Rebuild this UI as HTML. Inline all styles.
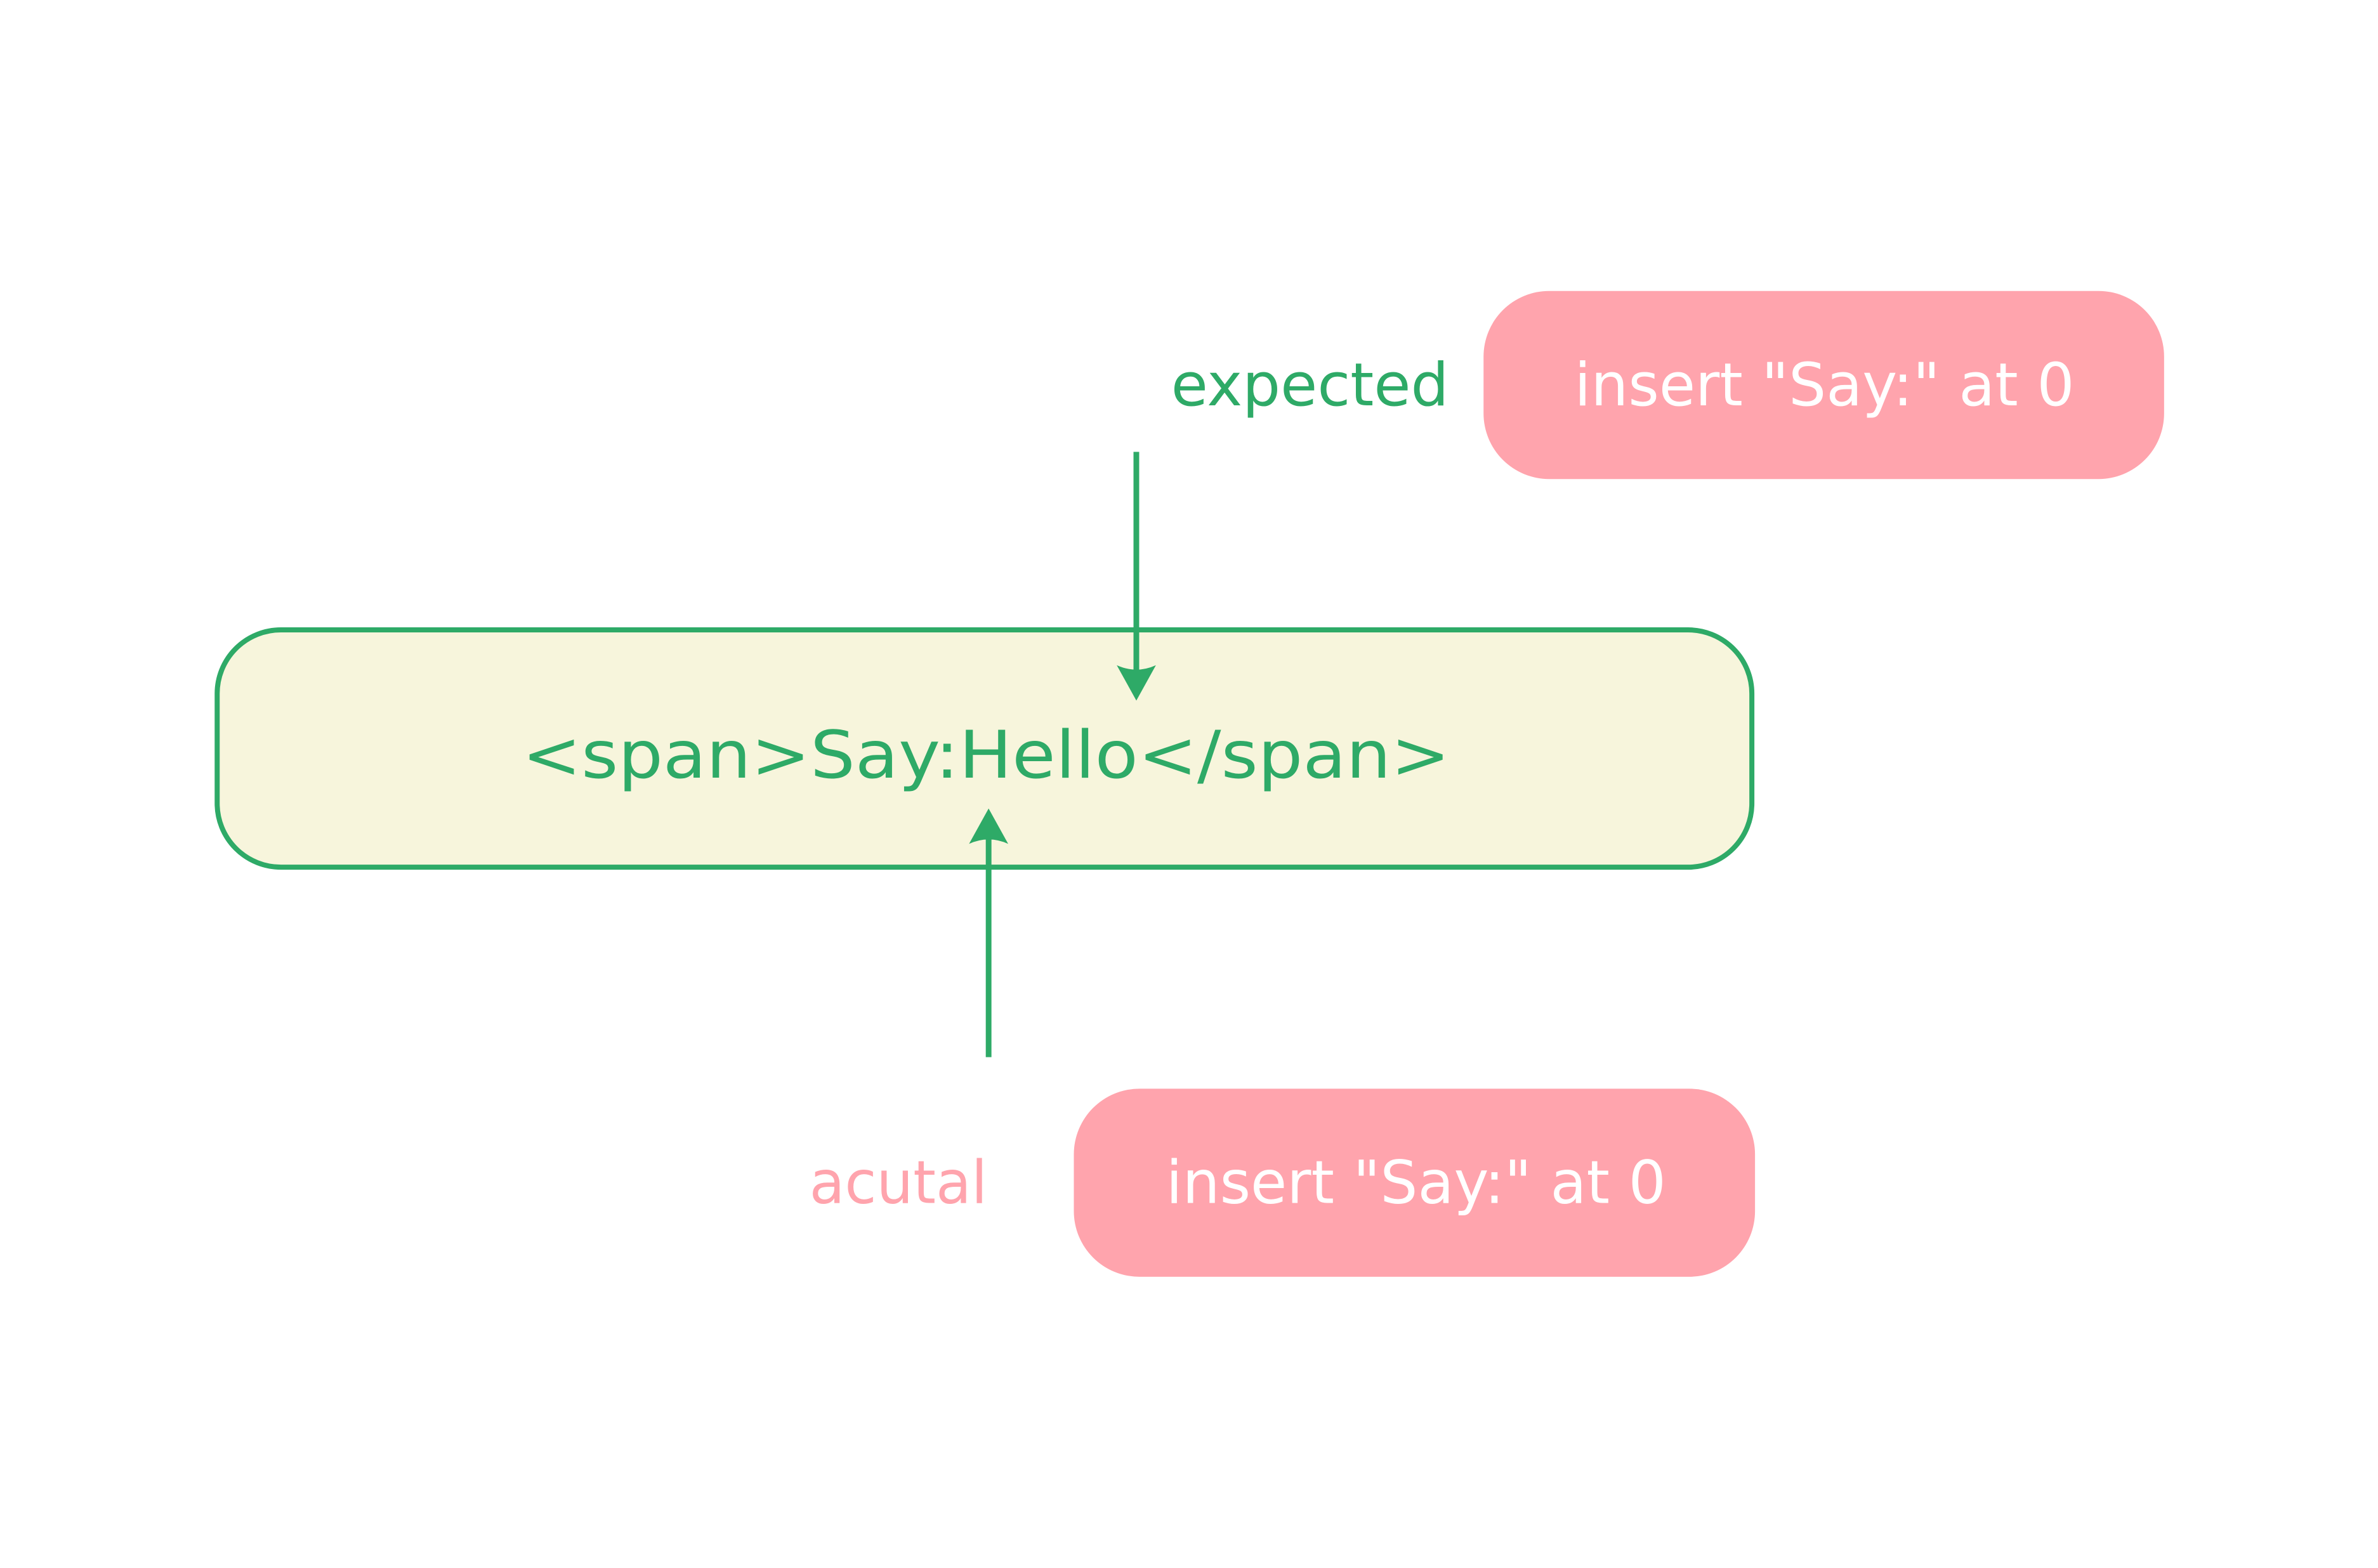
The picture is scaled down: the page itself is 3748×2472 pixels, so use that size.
<!DOCTYPE html>
<html><head><meta charset="utf-8"><style>html,body{margin:0;padding:0;background:#fff}svg{display:block}</style></head>
<body>
<svg width="3748" height="2472" viewBox="0 0 3748 2472" xmlns="http://www.w3.org/2000/svg" font-family="'DejaVu Sans','Liberation Sans',sans-serif">
<rect x="0" y="0" width="3748" height="2472" fill="#fff"/>
<g transform="scale(0.995)">
<rect x="344" y="998" width="2431" height="376" rx="101" ry="101" fill="#f7f5dc" stroke="#2eaa67" stroke-width="8"/>
<text x="1562" y="1232" font-size="104" fill="#2eaa67" text-anchor="middle" textLength="1470" lengthAdjust="spacingAndGlyphs">&lt;span&gt;Say:Hello&lt;/span&gt;</text>
<rect x="2350" y="461" width="1078" height="298" rx="104" ry="104" fill="#ffa4ad"/>
<text x="2890" y="642" font-size="94" fill="#fff" text-anchor="middle" textLength="792" lengthAdjust="spacingAndGlyphs">insert "Say:" at 0</text>
<text x="2295" y="642" font-size="94" fill="#2eaa67" text-anchor="end" textLength="440" lengthAdjust="spacingAndGlyphs">expected</text>
<rect x="1701" y="1725" width="1079" height="298" rx="104" ry="104" fill="#ffa4ad"/>
<text x="2243" y="1906" font-size="94" fill="#fff" text-anchor="middle" textLength="792" lengthAdjust="spacingAndGlyphs">insert "Say:" at 0</text>
<text x="1564" y="1906" font-size="94" fill="#ffa4ad" text-anchor="end" textLength="282" lengthAdjust="spacingAndGlyphs">acutal</text>
<line x1="1800" y1="716" x2="1800" y2="1070" stroke="#2eaa67" stroke-width="9"/>
<path d="M1800 1110 L1769 1054 Q1800 1068 1831 1054 Z" fill="#2eaa67"/>
<line x1="1566" y1="1675" x2="1566" y2="1320" stroke="#2eaa67" stroke-width="9"/>
<path d="M1566 1281 L1535 1337 Q1566 1323 1597 1337 Z" fill="#2eaa67"/>
</g>
</svg>
</body></html>
